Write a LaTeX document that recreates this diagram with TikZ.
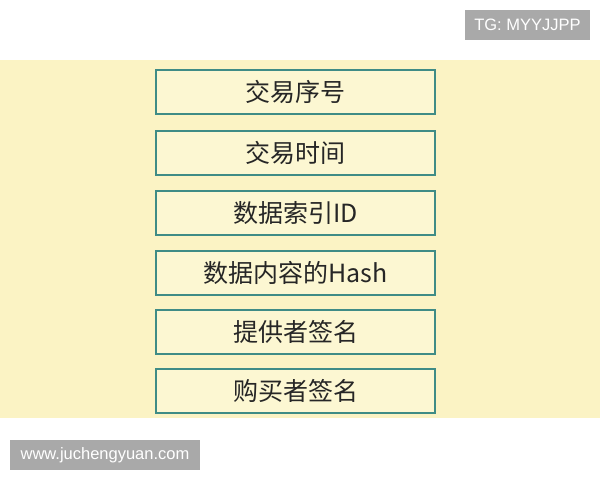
\documentclass[tikz,border=0pt]{standalone}
\usepackage{fontspec}
\setmainfont{Liberation Sans}
\newfontfamily\cjk{Noto Sans CJK SC}
\definecolor{band}{HTML}{FBF3C4}
\definecolor{boxfill}{HTML}{FCF7D2}
\definecolor{boxline}{HTML}{3F8C86}
\definecolor{tag}{HTML}{A9A9A9}
\begin{document}
\begin{tikzpicture}[x=1pt,y=-1pt,
  field/.style={draw=boxline,line width=2.4pt,fill=boxfill,minimum width=279pt,minimum height=44pt,inner sep=0pt,font=\cjk\fontsize{25}{28}\selectfont,text=black!85},
  tagbox/.style={fill=tag,text=white,inner sep=0pt,font=\fontsize{16.5}{18}\selectfont}]
\useasboundingbox (0,0) rectangle (600,480);
\fill[white] (0,0) rectangle (600,480);
\fill[band] (0,60) rectangle (600,418);
\node[field] (f1) at (295.5,92) {交易序号};
\node[field] (f2) at (295.5,153) {交易时间};
\node[field] (f3) at (295.5,213) {数据索引ID};
\node[field] (f4) at (295.5,273) {数据内容的Hash};
\node[field] (f5) at (295.5,332) {提供者签名};
\node[field] (f6) at (295.5,391) {购买者签名};
\node[tagbox,minimum width=125pt,minimum height=30pt] (tg) at (527.5,25) {TG: MYYJJPP};
\node[tagbox,minimum width=190pt,minimum height=30pt] (web) at (105,455) {www.juchengyuan.com};
\end{tikzpicture}
\end{document}
